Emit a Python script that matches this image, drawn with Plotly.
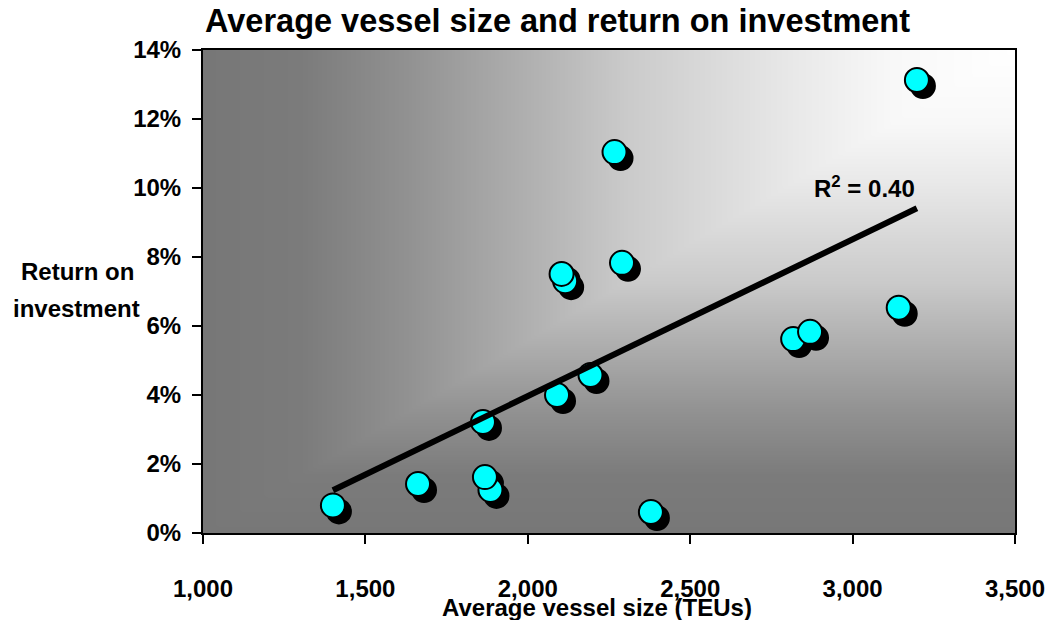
import numpy as np
import plotly.graph_objects as go

# ---- data ----
vessel_size = [1400, 1662, 1885, 1868, 1862, 2090, 2193, 2115, 2104,
               2290, 2267, 2379, 2817, 2869, 3142, 3198]
roi = [0.0080, 0.0142, 0.0125, 0.0162, 0.0322, 0.0400, 0.0458, 0.0730, 0.0751,
       0.0783, 0.1104, 0.0061, 0.0562, 0.0583, 0.0653, 0.1313]
x_ticks = [1000, 1500, 2000, 2500, 3000, 3500]
y_ticks = [0.00, 0.02, 0.04, 0.06, 0.08, 0.10, 0.12, 0.14]
r2_label = "R<sup>2</sup> = 0.40"
title_text = "Average vessel size and return on investment"
x_title = "Average vessel size (TEUs)"
y_title_lines = ["Return on", "investment"]

# ---- layout geometry ----
W, H = 1050, 620
L, R, T, B = 203, 35, 50, 87
PW, PH = W - L - R, H - T - B
X0, X1 = 1000, 3500
Y0, Y1 = 0.0, 0.14

def px_x(px):
    return (px - L) / PW

def px_y(py):
    return (H - B - py) / PH

FONT = "Liberation Sans, Arial, sans-serif"

# trend line (least squares on the data)
slope, intercept = np.polyfit(vessel_size, roi, 1)
tx = [min(vessel_size), max(vessel_size)]
ty = [slope * v + intercept for v in tx]

# background gradient (from top-right corner)
gx = np.linspace(X0, X1, 251)
gy = np.linspace(Y0, Y1, 151)
GX, GY = np.meshgrid(gx, gy)
D = np.maximum((X1 - GX) / (X1 - X0), (Y1 - GY) / (Y1 - Y0))
bg_scale = [[0.0, "rgb(255,255,255)"], [0.15, "rgb(248,248,248)"],
            [0.27, "rgb(233,233,233)"], [0.48, "rgb(202,202,202)"],
            [0.59, "rgb(178,178,178)"], [0.75, "rgb(145,145,145)"],
            [0.88, "rgb(123,123,123)"], [1.0, "rgb(119,119,119)"]]

# shadow offset in data units (pixel offset converted via axis scale)
dx_unit = (X1 - X0) / PW
dy_unit = (Y1 - Y0) / PH
sx = [v + 6 * dx_unit for v in vessel_size]
sy = [v - 6 * dy_unit for v in roi]

fig = go.Figure()
fig.add_trace(go.Heatmap(x=gx, y=gy, z=D, colorscale=bg_scale, zmin=0, zmax=1,
                         showscale=False, zsmooth="best", hoverinfo="skip"))
fig.add_trace(go.Scatter(x=sx, y=sy, mode="markers", hoverinfo="skip",
                         marker=dict(size=24, color="black",
                                     line=dict(color="black", width=2))))
fig.add_trace(go.Scatter(x=vessel_size, y=roi, mode="markers",
                         marker=dict(size=24, color="#00FFFF",
                                     line=dict(color="black", width=2))))
fig.add_trace(go.Scatter(x=tx, y=ty, mode="lines",
                         line=dict(color="black", width=6)))

axis_common = dict(showgrid=False, zeroline=False, showline=True, linewidth=2,
                   linecolor="black", mirror=True, ticks="outside", ticklen=9,
                   tickwidth=2, tickcolor="black", automargin=False,
                   tickfont=dict(family=FONT, size=24, color="black", weight="bold"))

fig.update_xaxes(range=[X0, X1], tickvals=x_ticks, tickformat=",",
                 ticklabelstandoff=24, **axis_common)
fig.update_yaxes(range=[Y0, Y1], tickvals=y_ticks, tickformat=".0%",
                 ticklabelstandoff=6, **axis_common)

ann_font = dict(family=FONT, size=24, color="black", weight="bold")
annotations = [
    dict(text=x_title, x=px_x(597), y=px_y(607), xref="paper", yref="paper",
         xanchor="center", yanchor="middle", showarrow=False, font=ann_font),
    dict(text=y_title_lines[0], x=px_x(77), y=px_y(271), xref="paper", yref="paper",
         xanchor="center", yanchor="middle", showarrow=False, font=ann_font),
    dict(text=y_title_lines[1], x=px_x(76), y=px_y(308), xref="paper", yref="paper",
         xanchor="center", yanchor="middle", showarrow=False, font=ann_font),
    dict(text=r2_label, x=px_x(917), y=px_y(187), xref="paper", yref="paper",
         xanchor="right", yanchor="middle", showarrow=False, font=ann_font),
]

fig.update_layout(
    width=W, height=H,
    margin=dict(l=L, r=R, t=T, b=B, pad=0, autoexpand=False),
    paper_bgcolor="white", plot_bgcolor="rgb(119,119,119)",
    showlegend=False,
    font=dict(family=FONT, size=24, color="black", weight="bold"),
    title=dict(text=title_text, x=205 / W, xanchor="left", xref="container",
               y=1 - 21 / H, yanchor="middle", yref="container",
               font=dict(family=FONT, size=32.5, color="black", weight="bold")),
    annotations=annotations,
)

fig.write_html("out.html", config={"displayModeBar": False},
               post_script="document.body.style.margin='0px';"
                           "document.body.style.overflow='hidden';")
